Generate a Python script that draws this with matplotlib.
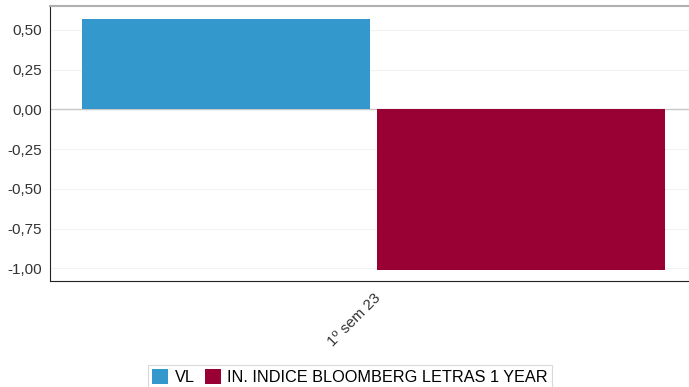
import numpy as np
import matplotlib.pyplot as plt
from matplotlib.ticker import FuncFormatter

plt.rcParams['font.family'] = ['Liberation Sans', 'DejaVu Sans']

# Dados
categorias = ['1º sem 23']
series = ['VL', 'IN. INDICE BLOOMBERG LETRAS 1 YEAR']
vl = [0.57]
indice = [-1.01]
cores = ['#3399cc', '#990033']

fig = plt.figure(figsize=(6.89, 3.87), dpi=100)
ax = fig.add_axes([0.0726, 0.2739, 0.9274, 0.7106])

x = np.arange(len(categorias))
largura = 0.45
ax.bar(x - largura / 2 - 0.006, vl, width=largura, color=cores[0], label=series[0], zorder=3)
ax.bar(x + largura / 2 + 0.006, indice, width=largura, color=cores[1], label=series[1], zorder=3)

ax.set_xlim(-0.506, 0.494)
ax.set_ylim(-1.08, 0.65)
ax.set_yticks([0.5, 0.25, 0, -0.25, -0.5, -0.75, -1.0])
ax.yaxis.set_major_formatter(FuncFormatter(lambda v, p: f'{v:.2f}'.replace('.', ',')))
ax.set_xticks(x)
ax.set_xticklabels(categorias, rotation=45, ha='right', rotation_mode='anchor')
ax.tick_params(axis='both', length=0, labelsize=11, colors='#333333', pad=6)
ax.tick_params(axis='x', pad=7)

# grade e linha do zero
ax.grid(axis='y', color='#f2f2f2', linewidth=0.8, zorder=0)
ax.axhline(0, color='#c8c8c8', linewidth=1, zorder=2)

ax.spines['right'].set_visible(False)
ax.spines['top'].set_color('#b0b0b0')
ax.spines['top'].set_linewidth(1.5)
ax.spines['left'].set_color('#222222')
ax.spines['bottom'].set_color('#222222')

leg = fig.legend(loc='center', bbox_to_anchor=(0.508, 0.026), ncol=2, fontsize=11.7,
                 frameon=True, fancybox=False, edgecolor='#d0d0d0',
                 handlelength=1.0, handleheight=1.0, handletextpad=0.4,
                 columnspacing=0.6, borderpad=0.25)
leg.get_frame().set_linewidth(0.8)

fig.savefig('out.png', dpi=100)
